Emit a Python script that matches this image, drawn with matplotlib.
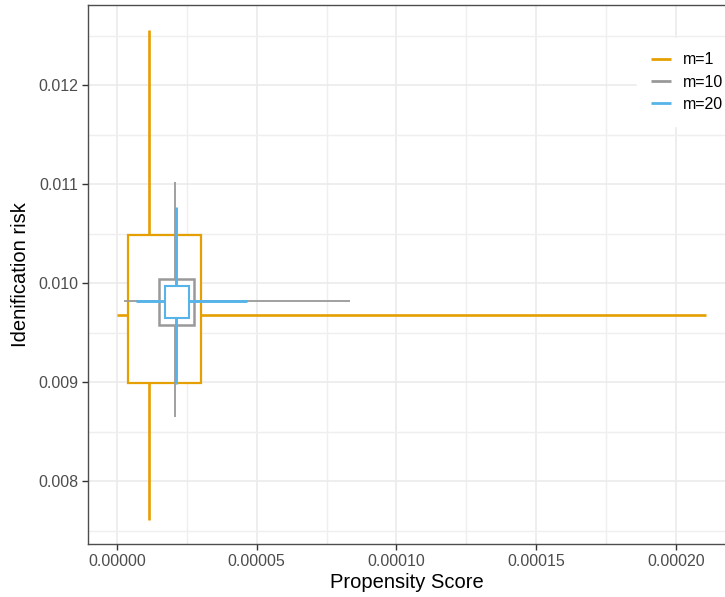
import numpy as np
import matplotlib
matplotlib.use('Agg')
import matplotlib.pyplot as plt
from matplotlib.patches import Rectangle

# groups and 2D box summaries (propensity score on x, identification risk on y)
groups = ['m=1', 'm=10', 'm=20']
colors = ['#E69F00', '#999999', '#56B4E9']

x_min = [0.0, 2.5e-6, 6.8e-6]
x_q1 = [3.9e-6, 1.50e-5, 1.72e-5]
x_med = [1.145e-5, 2.08e-5, 2.10e-5]
x_q3 = [3.0e-5, 2.76e-5, 2.58e-5]
x_max = [2.108e-4, 8.34e-5, 4.64e-5]

y_min = [0.007606, 0.008646, 0.00898]
y_q1 = [0.00899, 0.009576, 0.009646]
y_med = [0.009677, 0.009818, 0.009818]
y_q3 = [0.010485, 0.01004, 0.009973]
y_max = [0.012556, 0.01102, 0.010768]

whisker_lw = [1.9, 1.3, 2.1]
box_lw = [1.6, 1.8, 1.5]

plt.rcParams['font.family'] = ['Liberation Sans', 'DejaVu Sans']


def main():
    fig = plt.figure(figsize=(7.25, 5.97), dpi=100)
    ax = fig.add_axes([88 / 725, 53 / 597, 1 - 88 / 725, (544 - 5) / 597])

    for i, name in enumerate(groups):
        z = 3 + i * 3
        c = colors[i]
        ax.plot([x_min[i], x_max[i]], [y_med[i], y_med[i]], color=c,
                lw=whisker_lw[i], zorder=z, solid_capstyle='butt', label=name)
        ax.plot([x_med[i], x_med[i]], [y_min[i], y_max[i]], color=c,
                lw=whisker_lw[i], zorder=z, solid_capstyle='butt')
        box = Rectangle((x_q1[i], y_q1[i]), x_q3[i] - x_q1[i], y_q3[i] - y_q1[i],
                        facecolor='white', edgecolor=c, lw=box_lw[i], zorder=z + 1)
        ax.add_patch(box)

    ax.set_xticks(np.arange(0, 0.000201, 0.00005))
    ax.set_xticks(np.arange(0.000025, 0.000226, 0.00005), minor=True)
    ax.set_yticks(np.arange(0.008, 0.01201, 0.001))
    ax.set_yticks(np.arange(0.0075, 0.01251, 0.001), minor=True)
    ax.set_xticklabels(['0.00000', '0.00005', '0.00010', '0.00015', '0.00020'])
    ax.set_yticklabels(['0.008', '0.009', '0.010', '0.011', '0.012'])
    # limits after the ticks, set_xticks would widen them
    ax.set_xlim(-1.04e-5, 2.176e-4)
    ax.set_ylim(0.007364, 0.01281)

    ax.grid(True, which='major', color='#EBEBEB', lw=1.2, zorder=0)
    ax.grid(True, which='minor', color='#EFEFEF', lw=1.0, zorder=0)
    ax.set_axisbelow(True)

    ax.tick_params(which='major', length=4, width=1, color='#333333',
                   labelsize=11.5, labelcolor='#4D4D4D', pad=3)
    ax.tick_params(which='minor', length=0)
    for side in ['left', 'bottom', 'top']:
        ax.spines[side].set_color('#4D4D4D')
        ax.spines[side].set_linewidth(1.0)
    ax.spines['right'].set_visible(False)

    ax.set_xlabel('Propensity Score', fontsize=14.5, labelpad=3)
    ax.set_ylabel('Idenification risk', fontsize=14.5, labelpad=6)

    leg = ax.legend(loc='upper left', bbox_to_anchor=(637 / 725, 1 - 38 / 597),
                    bbox_transform=fig.transFigure, frameon=True, fontsize=11.5,
                    handlelength=1.2, handletextpad=0.8, labelspacing=0.45,
                    borderpad=0.9, borderaxespad=0)
    leg.get_frame().set_facecolor('white')
    leg.get_frame().set_edgecolor('white')
    leg.get_frame().set_alpha(1)
    leg.get_frame().set_boxstyle('square', pad=0)
    for line in leg.get_lines():
        line.set_linewidth(2.0)
    leg.set_zorder(20)

    plt.savefig('out.png', dpi=100)


if __name__ == "__main__":
    main()
